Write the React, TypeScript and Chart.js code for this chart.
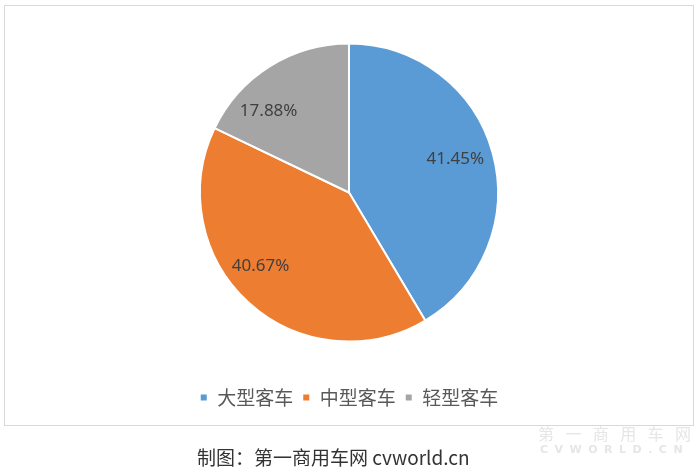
import React, { useEffect, useRef } from "react";
import { Chart, registerables } from "chart.js";

Chart.register(...registerables);

const categories = ["大型客车", "中型客车", "轻型客车"];
const shares = [41.45, 40.67, 17.88];
const sliceColors = ["#5B9BD5", "#ED7D31", "#A5A5A5"];
// where each label sits inside its slice (fraction of the slice's angle)
const labelAngleFrac = [0.49, 0.55, 0.32];
const labelRadiusFrac = 0.76;

const sliceLabelPlugin = {
  id: "sliceLabels",
  afterDatasetsDraw(chart: any) {
    const ctx = chart.ctx as CanvasRenderingContext2D;
    const meta = chart.getDatasetMeta(0);
    ctx.save();
    ctx.font = '17px "Noto Sans", "DejaVu Sans", sans-serif';
    ctx.fillStyle = "#404040";
    ctx.textAlign = "center";
    ctx.textBaseline = "middle";
    meta.data.forEach((arc: any, i: number) => {
      const p = arc.getProps(["x", "y", "startAngle", "endAngle", "outerRadius"], true);
      const a = p.startAngle + (p.endAngle - p.startAngle) * labelAngleFrac[i];
      const r = p.outerRadius * labelRadiusFrac;
      const tx = p.x + Math.cos(a) * r;
      const ty = p.y + Math.sin(a) * r;
      ctx.fillText(shares[i].toFixed(2) + "%", tx - 2, ty);
    });
    ctx.restore();
  },
};

export default function App() {
  const canvasRef = useRef<HTMLCanvasElement | null>(null);

  useEffect(() => {
    document.body.style.margin = "0";
    const canvas = canvasRef.current;
    if (!canvas) return;
    const chart = new Chart(canvas, {
      type: "pie",
      data: {
        labels: categories,
        datasets: [
          {
            data: shares,
            backgroundColor: sliceColors,
            borderColor: "#ffffff",
            borderWidth: 2,
            radius: 149,
          } as any,
        ],
      },
      options: {
        animation: false,
        responsive: false,
        maintainAspectRatio: false,
        layout: { padding: { top: -11, bottom: 8, left: 0, right: 0 } },
        plugins: {
          tooltip: { enabled: false },
          legend: {
            display: true,
            position: "bottom",
            labels: {
              boxWidth: 8,
              boxHeight: 8,
              padding: 9,
              color: "#595959",
              font: { size: 19, family: '"Noto Sans CJK SC", "Noto Sans", sans-serif' },
            },
          },
        },
      },
      plugins: [sliceLabelPlugin],
    });
    return () => chart.destroy();
  }, []);

  return (
    <div
      style={{
        position: "absolute",
        left: 0,
        top: 0,
        width: 700,
        height: 467,
        background: "#ffffff",
        overflow: "hidden",
        fontFamily: '"Noto Sans CJK SC", "Noto Sans", sans-serif',
      }}
    >
      <div
        style={{
          position: "absolute",
          left: 4,
          top: 5,
          width: 690,
          height: 421,
          boxSizing: "border-box",
          border: "1px solid #d9d9d9",
        }}
      >
        <canvas
          ref={canvasRef}
          width={688}
          height={419}
          style={{ position: "absolute", left: 0, top: 0, width: 688, height: 419 }}
        />
      </div>
      <div
        style={{
          position: "absolute",
          left: 538,
          top: 423,
          fontSize: 16,
          lineHeight: "20px",
          color: "#e6e6e6",
          letterSpacing: 11.4,
          whiteSpace: "nowrap",
        }}
      >
        第一商用车网
      </div>
      <div
        style={{
          position: "absolute",
          left: 540,
          top: 443,
          fontSize: 11,
          fontWeight: 700,
          lineHeight: "13px",
          color: "#e6e6e6",
          letterSpacing: 6.5,
          whiteSpace: "nowrap",
          fontFamily: '"DejaVu Sans", sans-serif',
        }}
      >
        CVWORLD.CN
      </div>
      <div
        style={{
          position: "absolute",
          left: 197,
          top: 445,
          fontSize: 19,
          lineHeight: "24px",
          color: "#333333",
          whiteSpace: "nowrap",
        }}
      >
        制图：第一商用车网 cvworld.cn
      </div>
    </div>
  );
}
